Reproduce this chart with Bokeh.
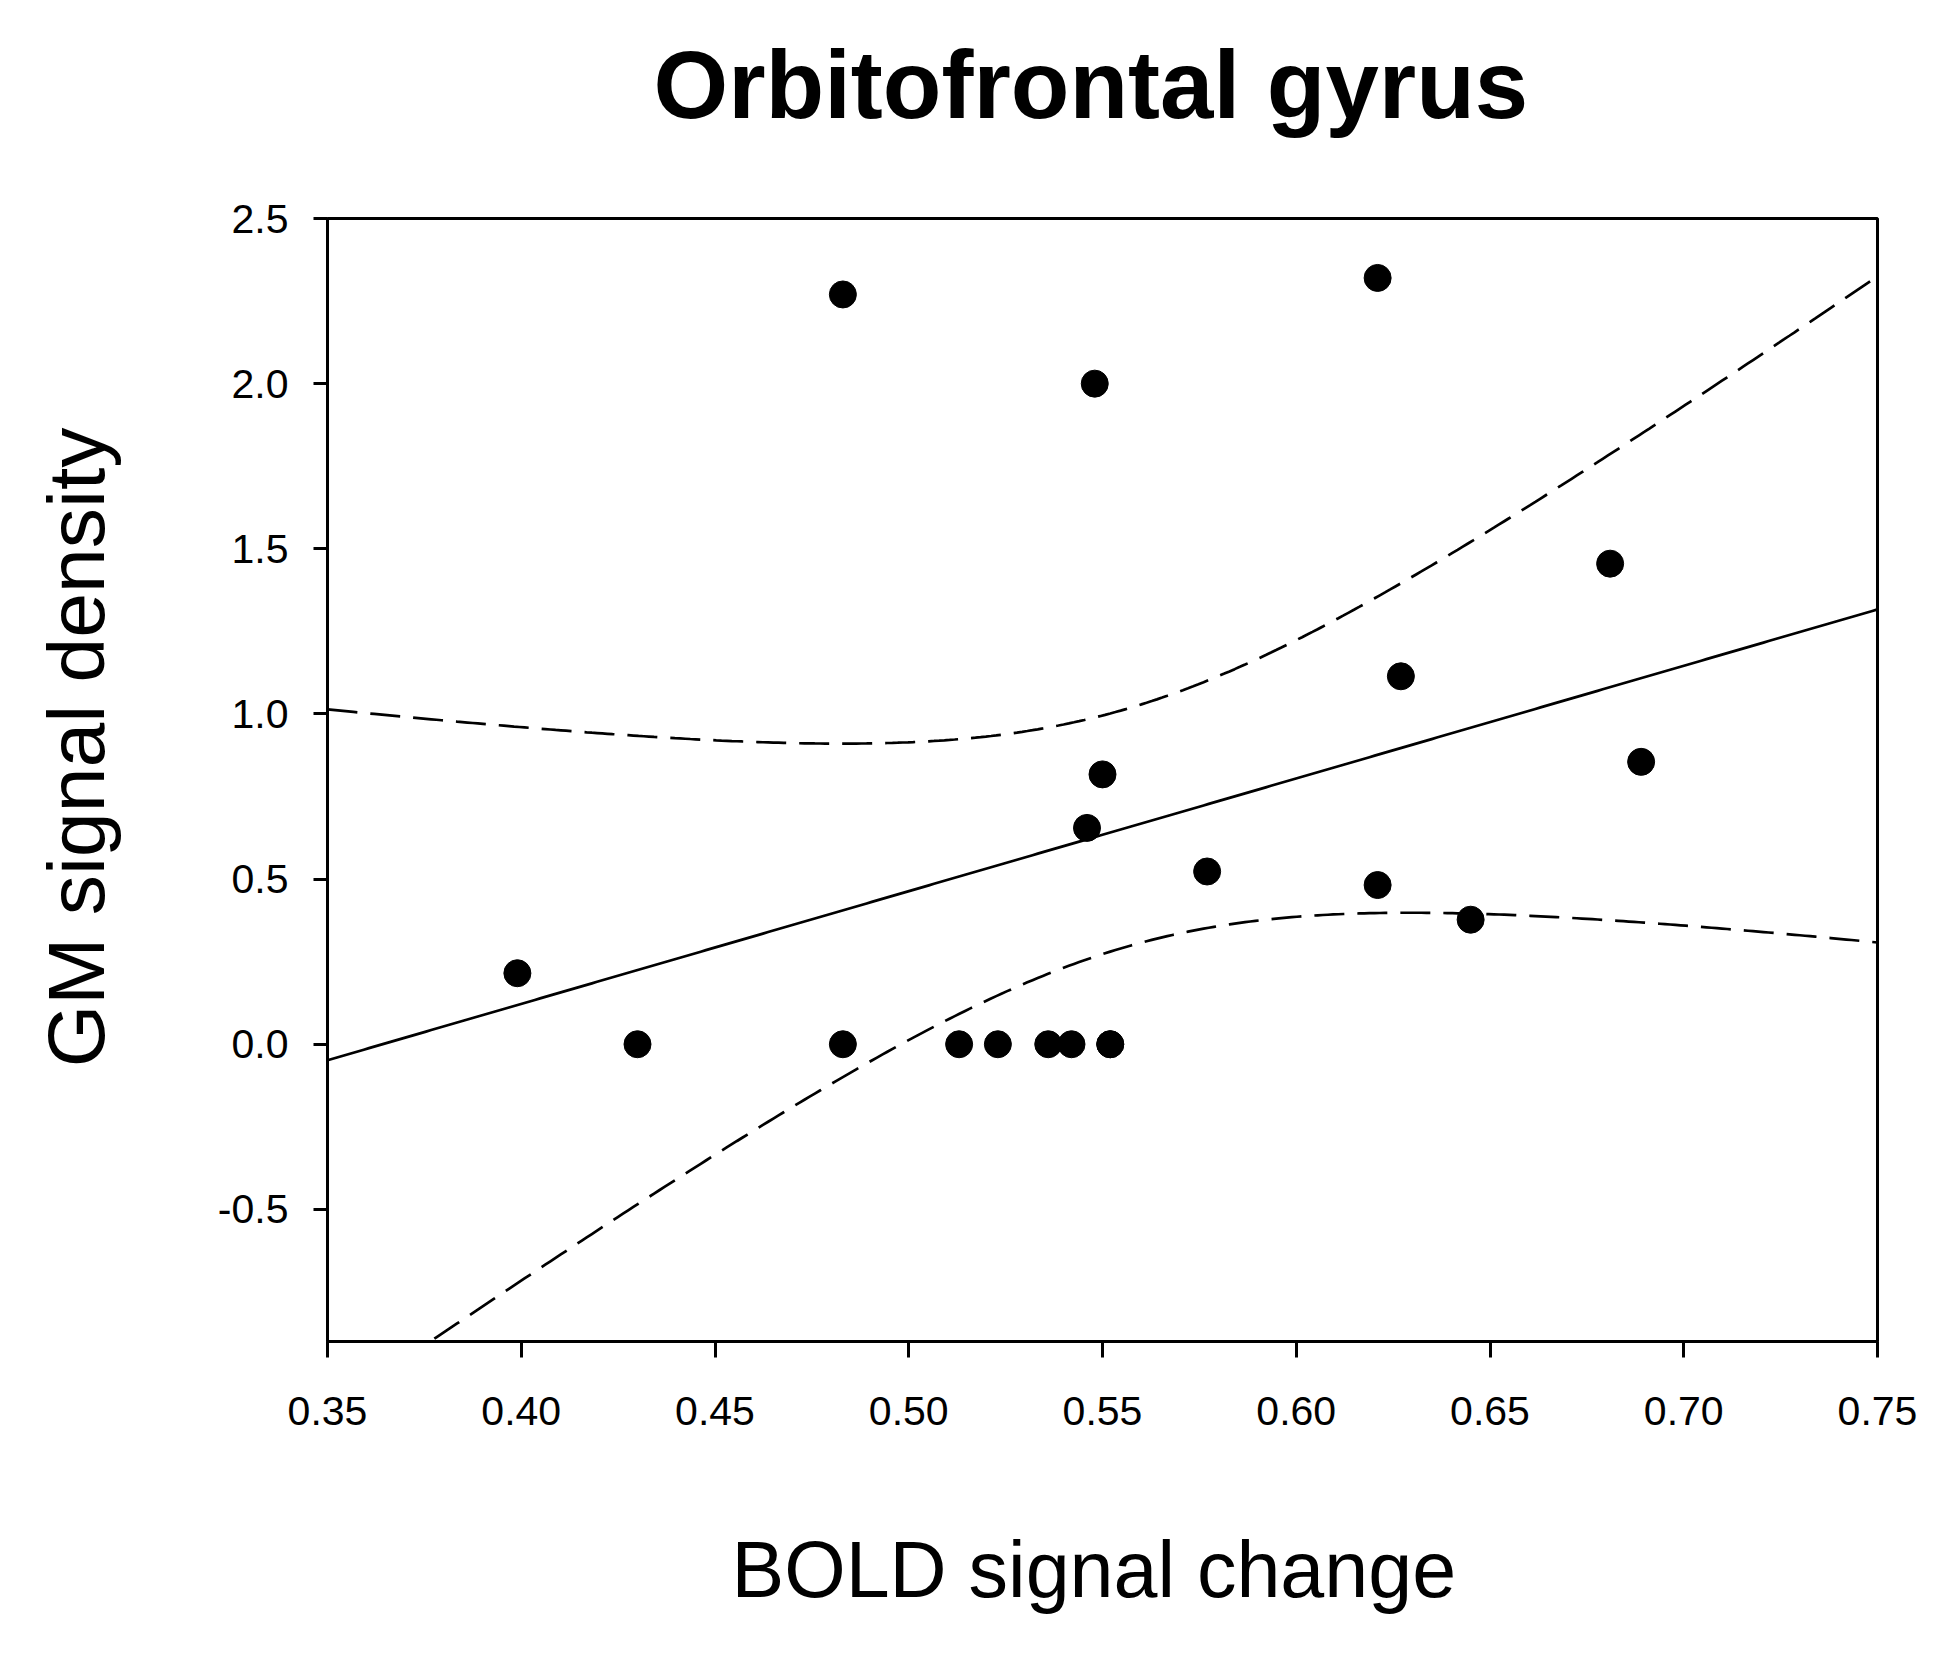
import numpy as np
from bokeh.plotting import figure
from bokeh.models import (Range1d, FixedTicker, NumeralTickFormatter, ColumnDataSource, Title)
from bokeh.embed import file_html
from bokeh.resources import INLINE

# ---- data ----
bold_change = [0.399, 0.430, 0.483, 0.483, 0.513, 0.523, 0.536, 0.542, 0.552, 0.552,
               0.548, 0.550, 0.546, 0.577, 0.621, 0.627, 0.621, 0.645, 0.681, 0.689]
gm_density = [0.215, 0.0, 2.27, 0.0, 0.0, 0.0, 0.0, 0.0, 0.0, 0.0,
              2.00, 0.817, 0.655, 0.523, 2.32, 1.114, 0.482, 0.377, 1.455, 0.855]
x_ticks = [0.35, 0.40, 0.45, 0.50, 0.55, 0.60, 0.65, 0.70, 0.75]
y_ticks = [-0.5, 0.0, 0.5, 1.0, 1.5, 2.0, 2.5]
x_limits = [0.35, 0.75]
y_limits = [-0.9, 2.5]

# ---- linear regression with 95% confidence band ----
x = np.array(bold_change)
y = np.array(gm_density)
n = len(x)
slope, intercept = np.polyfit(x, y, 1)
resid = y - (slope * x + intercept)
s = np.sqrt(np.sum(resid ** 2) / (n - 2))
sxx = np.sum((x - x.mean()) ** 2)
t_val = 2.1009  # t(0.975, df=18)
xg = np.linspace(x_limits[0], x_limits[1], 300)
yg = slope * xg + intercept
half = t_val * s * np.sqrt(1.0 / n + (xg - x.mean()) ** 2 / sxx)

FONT = "Liberation Sans"

p = figure(width=1934, height=1648, output_backend="svg", toolbar_location=None,
           x_range=Range1d(*x_limits), y_range=Range1d(*y_limits),
           min_border_left=327, min_border_right=57, min_border_top=218, min_border_bottom=307)

p.title.text = "Orbitofrontal gyrus"
p.title.text_font = FONT
p.title.text_font_size = "96px"
p.title.text_font_style = "bold"
p.title.text_color = "black"
p.title.align = "left"
p.title.offset = 326
p.title.standoff = 0
p.title.vertical_align = "bottom"

p.grid.visible = False
p.outline_line_color = "black"
p.outline_line_width = 3
p.outline_line_alpha = 1.0
p.background_fill_color = "white"
p.border_fill_color = "white"

for ax in (p.xaxis[0], p.yaxis[0]):
    ax.axis_line_color = "black"
    ax.axis_line_width = 3
    ax.major_tick_line_color = "black"
    ax.major_tick_line_width = 3
    ax.major_tick_in = 0
    ax.minor_tick_line_color = None
    ax.major_label_text_font = FONT
    ax.major_label_text_font_size = "41px"
    ax.major_label_text_color = "black"

p.xaxis[0].ticker = FixedTicker(ticks=x_ticks)
p.xaxis[0].formatter = NumeralTickFormatter(format="0.00")
p.xaxis[0].major_tick_out = 16
p.xaxis[0].major_label_standoff = 39

p.yaxis[0].ticker = FixedTicker(ticks=y_ticks)
p.yaxis[0].formatter = NumeralTickFormatter(format="0.0")
p.yaxis[0].major_tick_out = 14
p.yaxis[0].major_label_standoff = 25


def spacer(size):
    # a blank title used only to reserve space in a side panel
    return Title(text=" ", text_font=FONT, text_font_size="1px", standoff=size)


# spacing between the frame and the title
p.add_layout(spacer(78), "above")

# y-axis title
p.add_layout(spacer(91), "left")
p.add_layout(Title(text="GM signal density", text_font=FONT, text_font_size="80.5px",
                   text_font_style="normal", text_color="black", align="right",
                   offset=209, standoff=0, vertical_align="bottom"), "left")

# x-axis title
p.add_layout(spacer(94), "below")
p.add_layout(Title(text="BOLD signal change", text_font=FONT, text_font_size="79px",
                   text_font_style="normal", text_color="black", align="left",
                   offset=404, standoff=0, vertical_align="top"), "below")

band = ColumnDataSource(dict(x=xg, fit=yg, upper=yg + half, lower=yg - half))
p.line("x", "fit", source=band, line_color="black", line_width=2.7)
p.line("x", "upper", source=band, line_color="black", line_width=2.7, line_dash="30 13")
p.line("x", "lower", source=band, line_color="black", line_width=2.7, line_dash="30 13")

pts = ColumnDataSource(dict(x=bold_change, y=gm_density))
p.scatter("x", "y", source=pts, size=27, fill_color="black", line_color="black")

open("out.html", "w").write(file_html(p, INLINE))
